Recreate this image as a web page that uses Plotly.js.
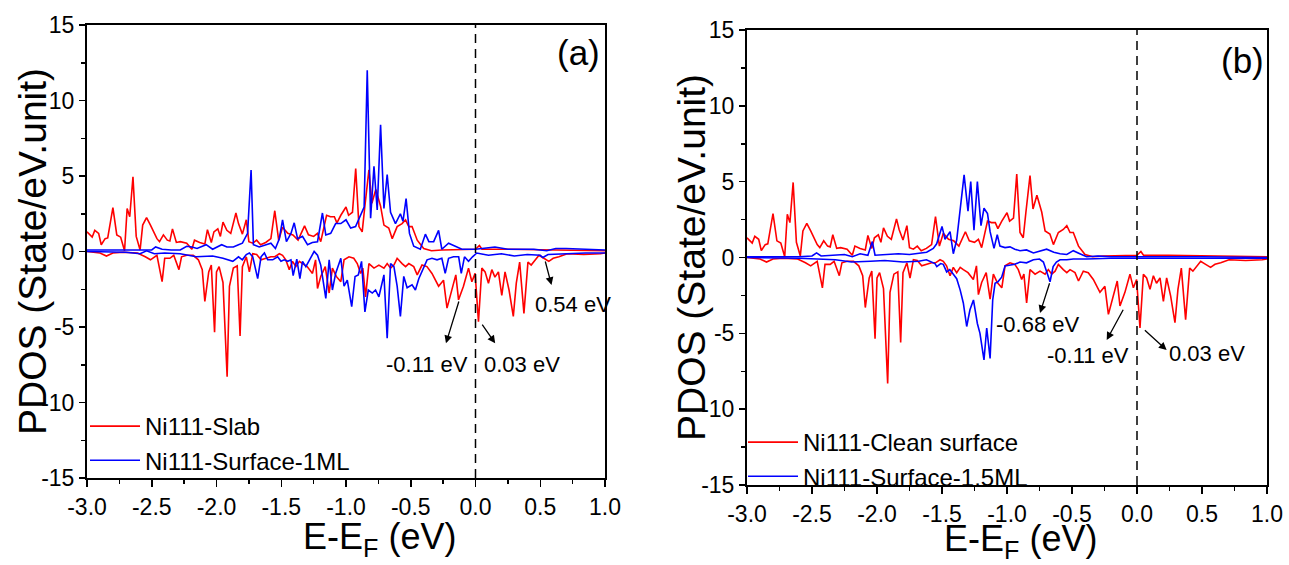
<!DOCTYPE html>
<html>
<head>
<meta charset="utf-8">
<script src="https://cdn.plot.ly/plotly-3.0.1.min.js"></script>
<style>
  html, body { margin: 0; padding: 0; background: #fff; }
  #chart { width: 1289px; height: 565px; }
</style>
</head>
<body>
<div id="chart"></div>
<script>
// ---------- Data ----------
// Ni111 slab / clean surface: spin-up (positive) branch
const eRedUp = [-3.00,-2.96,-2.94,-2.91,-2.89,-2.86,-2.84,-2.80,-2.77,-2.74,-2.71,-2.69,-2.67,-2.645,-2.62,-2.59,-2.57,-2.54,-2.51,-2.49,-2.46,-2.44,-2.41,-2.38,-2.36,-2.34,-2.31,-2.28,-2.23,-2.19,-2.17,-2.13,-2.09,-2.07,-2.04,-2.02,-1.99,-1.97,-1.95,-1.92,-1.89,-1.85,-1.83,-1.80,-1.77,-1.75,-1.72,-1.69,-1.66,-1.62,-1.58,-1.55,-1.52,-1.49,-1.45,-1.41,-1.37,-1.32,-1.29,-1.25,-1.22,-1.195,-1.15,-1.12,-1.09,-1.07,-1.04,-1.00,-0.98,-0.95,-0.925,-0.90,-0.875,-0.855,-0.823,-0.80,-0.77,-0.733,-0.707,-0.67,-0.643,-0.605,-0.567,-0.54,-0.515,-0.49,-0.45,-0.40,-0.34,-0.26,-0.13,0.00,0.03,0.05,0.24,0.50,0.76,1.00];
const redUp = [1.3,0.95,1.4,1.2,0.45,0.85,0.9,2.9,1.1,0.95,0.05,2.85,2.3,4.95,1.0,0.1,1.75,2.25,1.75,1.4,0.85,0.65,1.1,0.75,0.7,1.5,0.6,0.65,0.55,0.15,0.75,0.6,0.5,1.45,0.6,1.3,1.5,1.0,1.95,1.4,1.2,2.55,1.85,1.15,2.1,0.65,0.55,0.75,0.45,0.6,0.85,2.7,0.75,1.6,1.2,1.1,0.75,1.7,1.1,1.0,1.2,0.65,2.4,2.3,2.3,1.9,2.4,2.95,2.4,2.6,5.5,1.65,1.3,2.95,5.4,3.2,4.1,3.0,1.75,1.55,0.85,1.65,1.85,2.1,1.65,1.65,0.75,0.2,0.05,0.1,0.1,0.15,0.4,0.15,0.15,0.1,0.05,0.05];
// Ni111 slab / clean surface: spin-down (negative) branch
const eRedDn = [-3.00,-2.95,-2.90,-2.85,-2.80,-2.72,-2.61,-2.55,-2.51,-2.46,-2.42,-2.40,-2.36,-2.33,-2.29,-2.27,-2.23,-2.18,-2.14,-2.11,-2.09,-2.06,-2.04,-2.015,-2.00,-1.98,-1.95,-1.918,-1.90,-1.87,-1.84,-1.818,-1.80,-1.77,-1.746,-1.72,-1.69,-1.656,-1.617,-1.58,-1.55,-1.515,-1.49,-1.465,-1.438,-1.413,-1.387,-1.36,-1.336,-1.30,-1.259,-1.235,-1.22,-1.195,-1.16,-1.13,-1.105,-1.075,-1.04,-1.015,-0.977,-0.94,-0.913,-0.887,-0.87,-0.849,-0.823,-0.784,-0.746,-0.707,-0.682,-0.656,-0.63,-0.605,-0.567,-0.54,-0.515,-0.477,-0.45,-0.413,-0.375,-0.336,-0.285,-0.247,-0.22,-0.183,-0.152,-0.131,-0.093,-0.054,-0.028,-0.003,0.023,0.049,0.074,0.10,0.126,0.15,0.177,0.203,0.228,0.259,0.292,0.315,0.341,0.374,0.405,0.43,0.464,0.49,0.528,0.566,0.60,0.644,0.708,0.836,0.964,1.00];
const redDn = [0,-0.05,-0.1,-0.3,-0.1,-0.05,-0.1,-0.35,-0.55,-0.25,-2.0,-0.45,-0.45,-0.25,-1.2,-0.35,-0.25,-0.25,-0.55,-1.2,-3.3,-1.35,-0.9,-5.35,-1.35,-1.0,-2.05,-8.3,-2.3,-1.1,-0.95,-5.6,-1.0,-0.35,-1.35,-0.15,-0.2,-0.55,-0.45,-0.35,-0.35,-0.15,-0.25,-0.55,-1.2,-0.65,-1.0,-0.65,-0.8,-1.0,-1.45,-0.55,-2.45,-1.65,-1.0,-2.75,-1.1,-1.65,-2.0,-0.55,-0.35,-0.45,-0.8,-1.45,-1.1,-3.0,-0.8,-1.1,-0.9,-1.1,-0.8,-1.1,-0.9,-0.45,-0.8,-1.0,-0.8,-1.0,-1.55,-0.9,-1.0,-1.45,-2.3,-1.9,-3.75,-2.5,-1.55,-3.2,-2.3,-1.1,-2.0,-1.45,-4.65,-1.1,-1.35,-2.1,-1.2,-1.7,-1.35,-2.9,-1.35,-2.55,-4.3,-2.1,-0.7,-4.1,-0.7,-0.9,-0.55,-0.25,-0.45,-0.65,-0.45,-0.35,-0.15,-0.2,-0.15,-0.1];

// Panel (a): Ni111-Surface-1ML
const eBlueUpA = [-3.00,-2.80,-2.60,-2.56,-2.50,-2.47,-2.42,-2.35,-2.28,-2.23,-2.19,-2.15,-2.11,-2.08,-2.03,-1.99,-1.96,-1.92,-1.87,-1.83,-1.80,-1.76,-1.733,-1.715,-1.67,-1.617,-1.58,-1.545,-1.515,-1.49,-1.46,-1.425,-1.40,-1.374,-1.336,-1.297,-1.26,-1.22,-1.182,-1.156,-1.118,-1.08,-1.04,-1.00,-0.964,-0.926,-0.887,-0.86,-0.836,-0.81,-0.784,-0.759,-0.733,-0.707,-0.682,-0.656,-0.618,-0.58,-0.56,-0.536,-0.51,-0.477,-0.426,-0.387,-0.36,-0.323,-0.285,-0.26,-0.208,-0.157,-0.105,0.00,0.05,0.15,0.25,0.45,0.55,0.62,0.70,0.85,1.00];
const blueUpA = [0.1,0.1,0.1,0.15,0.1,0.3,0.15,0.1,0.1,0.35,0.3,0.2,0.35,0.45,0.15,0.3,0.45,0.3,0.3,0.45,0.55,1.2,5.4,0.45,0.3,0.45,0.55,0.2,0.85,2.1,0.65,1.2,1.9,0.85,1.0,0.45,0.6,0.65,2.55,1.1,1.2,1.85,1.85,2.1,1.55,1.65,2.4,2.95,12.0,2.2,5.65,2.75,8.4,2.85,5.1,2.6,1.85,2.5,2.0,3.5,1.2,0.35,0.15,1.15,0.65,0.65,1.4,0.15,0.55,0.35,0.15,0.15,0.2,0.3,0.15,0.15,0.05,0.2,0.2,0.15,0.1];
const eBlueDnA = [-3.00,-2.70,-2.59,-2.54,-2.48,-2.40,-2.28,-2.157,-2.03,-1.95,-1.874,-1.83,-1.80,-1.77,-1.746,-1.72,-1.682,-1.656,-1.63,-1.605,-1.566,-1.528,-1.502,-1.477,-1.45,-1.425,-1.408,-1.38,-1.356,-1.336,-1.31,-1.28,-1.246,-1.22,-1.195,-1.156,-1.13,-1.105,-1.08,-1.04,-1.015,-0.99,-0.956,-0.93,-0.905,-0.88,-0.854,-0.828,-0.797,-0.772,-0.746,-0.707,-0.682,-0.656,-0.63,-0.605,-0.58,-0.554,-0.528,-0.49,-0.464,-0.438,-0.413,-0.374,-0.336,-0.297,-0.26,-0.234,-0.208,-0.17,-0.13,-0.11,-0.085,-0.054,-0.023,0.01,0.10,0.20,0.30,0.40,0.50,0.52,0.56,0.70,0.85,1.00];
const blueDnA = [0.0,-0.05,-0.15,0.05,-0.15,-0.1,-0.15,-0.35,-0.3,-0.45,-0.65,-0.35,-0.55,-0.2,-0.1,-0.35,-1.8,-0.35,-0.1,-0.55,-0.55,-0.35,-0.65,-0.55,-0.65,-0.55,-1.6,-0.5,-1.8,-0.65,-1.0,-0.55,0.0,-0.25,-0.9,-3.1,-0.55,-2.55,-1.45,-0.45,-2.3,-1.9,-3.65,-1.65,-1.55,-0.65,-4.0,-2.55,-2.75,-2.55,-3.0,-1.55,-5.75,-0.8,-1.0,-2.3,-4.3,-1.65,-2.4,-2.2,-2.55,-1.8,-1.35,-0.55,-0.45,-0.55,-0.45,-1.45,-0.45,-0.35,-0.35,-1.45,-0.35,-0.65,-0.35,-0.1,-0.25,-0.15,-0.3,-0.2,-0.25,-0.4,-0.2,-0.15,-0.1,-0.1];

// Panel (b): Ni111-Surface-1.5ML
const eBlueUpB = [-3.00,-2.60,-2.50,-2.465,-2.43,-2.35,-2.25,-2.19,-2.13,-2.07,-2.036,-2.015,-1.913,-1.836,-1.75,-1.68,-1.618,-1.567,-1.541,-1.50,-1.477,-1.438,-1.413,-1.387,-1.36,-1.33,-1.30,-1.279,-1.254,-1.228,-1.20,-1.177,-1.15,-1.13,-1.10,-1.075,-1.054,-1.015,-0.977,-0.94,-0.90,-0.85,-0.797,-0.75,-0.695,-0.64,-0.592,-0.54,-0.49,-0.44,-0.387,-0.30,-0.20,0.00,0.50,1.00];
const blueUpB = [0.05,0.05,0.1,0.3,0.1,0.15,0.2,0.05,0.25,0.15,1.05,0.15,0.2,0.25,0.2,0.3,0.35,0.6,0.9,2.05,1.2,1.7,0.25,1.15,3.15,5.45,3.05,5.0,1.8,5.0,2.1,3.25,2.9,1.7,0.6,1.5,0.75,0.65,0.7,0.55,0.45,0.5,0.3,0.4,0.55,0.35,0.25,0.2,0.45,0.25,0.05,0.1,0.05,0.05,0.05,0.0];
const eBlueDnB = [-3.00,-2.60,-2.32,-2.195,-2.05,-1.94,-1.80,-1.68,-1.62,-1.554,-1.54,-1.51,-1.49,-1.464,-1.44,-1.413,-1.387,-1.36,-1.336,-1.31,-1.285,-1.258,-1.228,-1.208,-1.177,-1.156,-1.13,-1.11,-1.092,-1.07,-1.041,-1.015,-0.977,-0.94,-0.90,-0.85,-0.797,-0.75,-0.72,-0.695,-0.669,-0.645,-0.62,-0.592,-0.54,-0.49,-0.387,-0.20,0.00,0.50,1.00];
const blueDnB = [0.0,-0.05,-0.15,-0.3,-0.25,-0.2,-0.3,-0.25,-0.15,-0.4,-0.6,-0.4,-0.45,-0.95,-0.8,-1.15,-1.4,-2.15,-3.0,-4.55,-3.45,-2.8,-4.35,-5.0,-6.75,-4.65,-6.65,-2.8,-1.7,-1.6,-1.3,-0.55,-0.5,-0.45,-0.3,-0.35,-0.15,-0.1,-0.3,-1.0,-1.6,-0.6,-0.3,-0.15,-0.15,-0.1,-0.1,-0.05,-0.05,-0.05,-0.05];

// Series names, axis titles and tick labels
const namesA = ['Ni111-Slab', 'Ni111-Surface-1ML'];
const namesB = ['Ni111-Clean surface', 'Ni111-Surface-1.5ML'];
const xTitle = 'E-E<sub>F</sub> (eV)';
const yTitle = 'PDOS (State/eV.unit)';
const xTickVals = [-3.0,-2.5,-2.0,-1.5,-1.0,-0.5,0.0,0.5,1.0];
const xTickText = ['-3.0','-2.5','-2.0','-1.5','-1.0','-0.5','0.0','0.5','1.0'];
const yTickVals = [-15,-10,-5,0,5,10,15];
const yTickText = ['-15','-10','-5','0','5','10','15'];

// Peak annotations: [label, label x, label y, arrow head x, head y, arrow tail x (on curve), tail y]
const notesA = [
  ['-0.11 eV', -0.377, -7.5, -0.228, -6.08, -0.125, -3.21],
  ['0.03 eV', 0.362, -7.5, 0.152, -6.08, 0.044, -4.75],
  ['0.54 eV', 0.754, -3.48, 0.587, -2.22, 0.536, -0.56]
];
const notesB = [
  ['-0.68 eV', -0.762, -4.45, -0.746, -3.66, -0.669, -1.6],
  ['-0.11 eV', -0.377, -6.43, -0.233, -5.44, -0.10, -3.35],
  ['0.03 eV', 0.538, -6.36, 0.228, -6.10, 0.049, -4.71]
];

// ---------- Figure ----------
const RED = '#ff0000', BLUE = '#0000ff';
const FONT = 'Liberation Sans, Arial, Helvetica, sans-serif';
const LW = 1.6;

function line(x, y, color, xa, ya, name, show, leg) {
  return {
    type: 'scatter', mode: 'lines', x: x, y: y,
    xaxis: xa, yaxis: ya, name: name, showlegend: show,
    legend: leg, legendgroup: leg + name,
    line: {color: color, width: LW},
    hoverinfo: 'x+y'
  };
}

const traces = [
  line(eRedUp, redUp, RED, 'x', 'y', namesA[0], true, 'legend'),
  line(eRedDn, redDn, RED, 'x', 'y', namesA[0], false, 'legend'),
  line(eBlueUpA, blueUpA, BLUE, 'x', 'y', namesA[1], true, 'legend'),
  line(eBlueDnA, blueDnA, BLUE, 'x', 'y', namesA[1], false, 'legend'),
  line(eRedUp, redUp, RED, 'x2', 'y2', namesB[0], true, 'legend2'),
  line(eRedDn, redDn, RED, 'x2', 'y2', namesB[0], false, 'legend2'),
  line(eBlueUpB, blueUpB, BLUE, 'x2', 'y2', namesB[1], true, 'legend2'),
  line(eBlueDnB, blueDnB, BLUE, 'x2', 'y2', namesB[1], false, 'legend2')
];

const W = 1289, H = 565;
const TICKFONT = {family: FONT, size: 23, color: '#000'};
function xAxis(dom, anchor) {
  return {
    domain: dom, range: [-3, 1], autorange: false, anchor: anchor,
    tickmode: 'array', tickvals: xTickVals, ticktext: xTickText,
    ticks: 'outside', ticklen: 7, tickwidth: 1.5, tickcolor: '#000',
    minor: {tickmode: 'linear', tick0: -3, dtick: 0.25, ticks: 'outside', ticklen: 4, tickwidth: 1.5, tickcolor: '#000'},
    showline: true, linecolor: '#000', linewidth: 2, mirror: true,
    showgrid: false, zeroline: false,
    tickfont: TICKFONT, automargin: false
  };
}
function yAxis(dom, anchor) {
  return {
    domain: dom, range: [-15, 15], autorange: false, anchor: anchor,
    tickmode: 'array', tickvals: yTickVals, ticktext: yTickText,
    ticks: 'outside', ticklen: 6, tickwidth: 1.5, tickcolor: '#000',
    minor: {tickmode: 'linear', tick0: -15, dtick: 2.5, ticks: 'outside', ticklen: 4, tickwidth: 1.5, tickcolor: '#000'},
    showline: true, linecolor: '#000', linewidth: 2, mirror: true,
    showgrid: false, zeroline: false,
    tickfont: TICKFONT, automargin: false
  };
}

const annotations = [];
function addNotes(list, xr, yr) {
  list.forEach(function (n) {
    annotations.push({xref: xr, yref: yr, x: n[1], y: n[2], text: n[0], showarrow: false,
      font: {family: FONT, size: 22, color: '#000'}});
    annotations.push({xref: xr, yref: yr, x: n[3], y: n[4], axref: xr, ayref: yr, ax: n[5], ay: n[6],
      text: '', showarrow: true, arrowhead: 2, arrowsize: 1.2, arrowwidth: 1.3,
      arrowcolor: '#000', standoff: 0, startstandoff: 0});
  });
}
addNotes(notesA, 'x', 'y');
addNotes(notesB, 'x2', 'y2');
annotations.push({xref: 'x', yref: 'y', x: 0.792, y: 13.2, text: '(a)', showarrow: false,
  font: {family: FONT, size: 35, color: '#000'}});
annotations.push({xref: 'x2', yref: 'y2', x: 0.815, y: 13.0, text: '(b)', showarrow: false,
  font: {family: FONT, size: 35, color: '#000'}});

// Axis titles (placed as in the reference)
const XTITLEFONT = {family: FONT, size: 36, color: '#000'};
const YTITLEFONT = {family: FONT, size: 39, color: '#000'};
annotations.push({xref: 'paper', yref: 'paper', x: 379 / W, y: 1 - 539 / H, text: xTitle,
  showarrow: false, xanchor: 'center', yanchor: 'middle', font: XTITLEFONT});
annotations.push({xref: 'paper', yref: 'paper', x: 1021 / W, y: 1 - 541 / H, text: xTitle,
  showarrow: false, xanchor: 'center', yanchor: 'middle', font: XTITLEFONT});
annotations.push({xref: 'paper', yref: 'paper', x: 33 / W, y: 1 - 252 / H, text: yTitle, textangle: -90,
  showarrow: false, xanchor: 'center', yanchor: 'middle', font: YTITLEFONT});
annotations.push({xref: 'paper', yref: 'paper', x: 691 / W, y: 1 - 258 / H, text: yTitle, textangle: -90,
  showarrow: false, xanchor: 'center', yanchor: 'middle', font: YTITLEFONT});

const shapes = [
  {type: 'line', xref: 'x', yref: 'y domain', x0: 0, x1: 0, y0: 0, y1: 1,
   line: {color: '#000', width: 1.5, dash: '9px,6px'}},
  {type: 'line', xref: 'x2', yref: 'y2 domain', x0: 0, x1: 0, y0: 0, y1: 1,
   line: {color: '#000', width: 1.5, dash: '9px,6px'}}
];

const legendStyle = {
  bgcolor: 'rgba(0,0,0,0)', borderwidth: 0,
  font: {family: FONT, size: 24, color: '#000'},
  itemwidth: 50, tracegroupgap: 0, xanchor: 'left', yanchor: 'top', traceorder: 'normal'
};

const layout = {
  width: W, height: H,
  margin: {l: 0, r: 0, t: 0, b: 0, pad: 0},
  paper_bgcolor: '#fff', plot_bgcolor: '#fff',
  font: {family: FONT, color: '#000'},
  showlegend: true,
  xaxis: xAxis([87 / W, 605 / W], 'y'),
  yaxis: yAxis([87 / H, 540 / H], 'x'),
  xaxis2: xAxis([747 / W, 1267 / W], 'y2'),
  yaxis2: yAxis([80 / H, 535 / H], 'x2'),
  legend: Object.assign({}, legendStyle, {x: 85 / W, y: 1 - 404 / H}),
  legend2: Object.assign({}, legendStyle, {x: 743 / W, y: 1 - 420 / H}),
  annotations: annotations,
  shapes: shapes
};

Plotly.newPlot('chart', traces, layout, {staticPlot: true, displayModeBar: false});
</script>
</body>
</html>
